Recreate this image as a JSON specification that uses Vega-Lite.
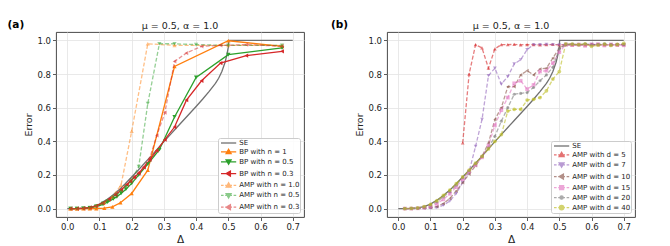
{
"$schema": "https://vega.github.io/schema/vega-lite/v6.json",
"padding": {"left": 7, "top": 19, "right": 0, "bottom": 0},
"config": {
 "font": "DejaVu Sans",
 "view": {"stroke": "#333333", "strokeWidth": 0.9},
 "axis": {"domain": false, "grid": true, "gridColor": "#e3e3e3", "gridWidth": 0.8, "tickColor": "#333333", "tickSize": 3.5, "tickWidth": 0.8, "labelFontSize": 8.5, "labelColor": "#222222", "labelPadding": 2, "titleFontWeight": "normal", "titleColor": "#222222", "titlePadding": 3},
 "title": {"fontSize": 9.5, "fontWeight": "normal", "color": "#222222"}
},
"datasets": {
"a": [
{"s":"SE","x":0,"y":0},{"s":"SE","x":0.02,"y":0},{"s":"SE","x":0.04,"y":0.001},{"s":"SE","x":0.06,"y":0.004},{"s":"SE","x":0.08,"y":0.012},{"s":"SE","x":0.1,"y":0.027},{"s":"SE","x":0.12,"y":0.05},{"s":"SE","x":0.14,"y":0.078},{"s":"SE","x":0.16,"y":0.11},{"s":"SE","x":0.18,"y":0.148},{"s":"SE","x":0.2,"y":0.188},{"s":"SE","x":0.22,"y":0.228},{"s":"SE","x":0.24,"y":0.27},{"s":"SE","x":0.26,"y":0.312},{"s":"SE","x":0.28,"y":0.355},{"s":"SE","x":0.3,"y":0.398},{"s":"SE","x":0.32,"y":0.44},{"s":"SE","x":0.34,"y":0.482},{"s":"SE","x":0.36,"y":0.524},{"s":"SE","x":0.38,"y":0.565},{"s":"SE","x":0.4,"y":0.607},{"s":"SE","x":0.42,"y":0.65},{"s":"SE","x":0.44,"y":0.695},{"s":"SE","x":0.46,"y":0.745},{"s":"SE","x":0.47,"y":0.775},{"s":"SE","x":0.48,"y":0.815},{"s":"SE","x":0.49,"y":0.87},{"s":"SE","x":0.495,"y":0.91},{"s":"SE","x":0.5,"y":0.96},{"s":"SE","x":0.501,"y":1.0},{"s":"SE","x":0.7,"y":1.0},
{"s":"BP with n = 1","x":0.01,"y":0},{"s":"BP with n = 1","x":0.03,"y":0},{"s":"BP with n = 1","x":0.05,"y":0},{"s":"BP with n = 1","x":0.07,"y":0},{"s":"BP with n = 1","x":0.09,"y":0},{"s":"BP with n = 1","x":0.115,"y":0.003},{"s":"BP with n = 1","x":0.14,"y":0.01},{"s":"BP with n = 1","x":0.165,"y":0.035},{"s":"BP with n = 1","x":0.2,"y":0.09},{"s":"BP with n = 1","x":0.25,"y":0.228},{"s":"BP with n = 1","x":0.333,"y":0.845},{"s":"BP with n = 1","x":0.5,"y":0.998},{"s":"BP with n = 1","x":0.667,"y":0.965},
{"s":"BP with n = 0.5","x":0.01,"y":0},{"s":"BP with n = 0.5","x":0.03,"y":0},{"s":"BP with n = 0.5","x":0.05,"y":0.001},{"s":"BP with n = 0.5","x":0.07,"y":0.004},{"s":"BP with n = 0.5","x":0.09,"y":0.012},{"s":"BP with n = 0.5","x":0.111,"y":0.025},{"s":"BP with n = 0.5","x":0.125,"y":0.038},{"s":"BP with n = 0.5","x":0.143,"y":0.058},{"s":"BP with n = 0.5","x":0.154,"y":0.07},{"s":"BP with n = 0.5","x":0.167,"y":0.09},{"s":"BP with n = 0.5","x":0.182,"y":0.115},{"s":"BP with n = 0.5","x":0.2,"y":0.15},{"s":"BP with n = 0.5","x":0.222,"y":0.2},{"s":"BP with n = 0.5","x":0.25,"y":0.265},{"s":"BP with n = 0.5","x":0.286,"y":0.35},{"s":"BP with n = 0.5","x":0.333,"y":0.545},{"s":"BP with n = 0.5","x":0.4,"y":0.78},{"s":"BP with n = 0.5","x":0.5,"y":0.915},{"s":"BP with n = 0.5","x":0.667,"y":0.955},
{"s":"BP with n = 0.3","x":0.01,"y":0},{"s":"BP with n = 0.3","x":0.03,"y":0},{"s":"BP with n = 0.3","x":0.05,"y":0.002},{"s":"BP with n = 0.3","x":0.07,"y":0.006},{"s":"BP with n = 0.3","x":0.09,"y":0.016},{"s":"BP with n = 0.3","x":0.11,"y":0.033},{"s":"BP with n = 0.3","x":0.13,"y":0.055},{"s":"BP with n = 0.3","x":0.15,"y":0.082},{"s":"BP with n = 0.3","x":0.167,"y":0.11},{"s":"BP with n = 0.3","x":0.185,"y":0.142},{"s":"BP with n = 0.3","x":0.196,"y":0.163},{"s":"BP with n = 0.3","x":0.208,"y":0.185},{"s":"BP with n = 0.3","x":0.222,"y":0.21},{"s":"BP with n = 0.3","x":0.238,"y":0.245},{"s":"BP with n = 0.3","x":0.256,"y":0.29},{"s":"BP with n = 0.3","x":0.278,"y":0.345},{"s":"BP with n = 0.3","x":0.303,"y":0.41},{"s":"BP with n = 0.3","x":0.333,"y":0.485},{"s":"BP with n = 0.3","x":0.37,"y":0.645},{"s":"BP with n = 0.3","x":0.417,"y":0.76},{"s":"BP with n = 0.3","x":0.476,"y":0.865},{"s":"BP with n = 0.3","x":0.556,"y":0.91},{"s":"BP with n = 0.3","x":0.667,"y":0.935},
{"s":"AMP with n = 1.0","x":0.01,"y":0},{"s":"AMP with n = 1.0","x":0.03,"y":0},{"s":"AMP with n = 1.0","x":0.05,"y":0.002},{"s":"AMP with n = 1.0","x":0.07,"y":0.006},{"s":"AMP with n = 1.0","x":0.09,"y":0.016},{"s":"AMP with n = 1.0","x":0.115,"y":0.035},{"s":"AMP with n = 1.0","x":0.14,"y":0.07},{"s":"AMP with n = 1.0","x":0.167,"y":0.14},{"s":"AMP with n = 1.0","x":0.2,"y":0.46},{"s":"AMP with n = 1.0","x":0.25,"y":0.98},{"s":"AMP with n = 1.0","x":0.333,"y":0.97},{"s":"AMP with n = 1.0","x":0.5,"y":0.97},{"s":"AMP with n = 1.0","x":0.667,"y":0.97},
{"s":"AMP with n = 0.5","x":0.01,"y":0},{"s":"AMP with n = 0.5","x":0.03,"y":0},{"s":"AMP with n = 0.5","x":0.05,"y":0.002},{"s":"AMP with n = 0.5","x":0.07,"y":0.006},{"s":"AMP with n = 0.5","x":0.09,"y":0.016},{"s":"AMP with n = 0.5","x":0.111,"y":0.032},{"s":"AMP with n = 0.5","x":0.125,"y":0.046},{"s":"AMP with n = 0.5","x":0.143,"y":0.068},{"s":"AMP with n = 0.5","x":0.154,"y":0.082},{"s":"AMP with n = 0.5","x":0.167,"y":0.1},{"s":"AMP with n = 0.5","x":0.182,"y":0.13},{"s":"AMP with n = 0.5","x":0.2,"y":0.17},{"s":"AMP with n = 0.5","x":0.222,"y":0.25},{"s":"AMP with n = 0.5","x":0.25,"y":0.625},{"s":"AMP with n = 0.5","x":0.286,"y":0.98},{"s":"AMP with n = 0.5","x":0.333,"y":0.98},{"s":"AMP with n = 0.5","x":0.4,"y":0.975},{"s":"AMP with n = 0.5","x":0.5,"y":0.97},{"s":"AMP with n = 0.5","x":0.667,"y":0.97},
{"s":"AMP with n = 0.3","x":0.01,"y":0},{"s":"AMP with n = 0.3","x":0.03,"y":0},{"s":"AMP with n = 0.3","x":0.05,"y":0.002},{"s":"AMP with n = 0.3","x":0.07,"y":0.006},{"s":"AMP with n = 0.3","x":0.09,"y":0.016},{"s":"AMP with n = 0.3","x":0.11,"y":0.033},{"s":"AMP with n = 0.3","x":0.13,"y":0.057},{"s":"AMP with n = 0.3","x":0.15,"y":0.085},{"s":"AMP with n = 0.3","x":0.167,"y":0.113},{"s":"AMP with n = 0.3","x":0.185,"y":0.145},{"s":"AMP with n = 0.3","x":0.196,"y":0.166},{"s":"AMP with n = 0.3","x":0.208,"y":0.19},{"s":"AMP with n = 0.3","x":0.222,"y":0.215},{"s":"AMP with n = 0.3","x":0.238,"y":0.25},{"s":"AMP with n = 0.3","x":0.256,"y":0.3},{"s":"AMP with n = 0.3","x":0.278,"y":0.435},{"s":"AMP with n = 0.3","x":0.303,"y":0.57},{"s":"AMP with n = 0.3","x":0.333,"y":0.875},{"s":"AMP with n = 0.3","x":0.37,"y":0.925},{"s":"AMP with n = 0.3","x":0.417,"y":0.965},{"s":"AMP with n = 0.3","x":0.476,"y":0.97},{"s":"AMP with n = 0.3","x":0.556,"y":0.975},{"s":"AMP with n = 0.3","x":0.667,"y":0.965}
],
"b": [
{"s":"SE","x":0,"y":0},{"s":"SE","x":0.02,"y":0},{"s":"SE","x":0.04,"y":0.001},{"s":"SE","x":0.06,"y":0.004},{"s":"SE","x":0.08,"y":0.012},{"s":"SE","x":0.1,"y":0.027},{"s":"SE","x":0.12,"y":0.05},{"s":"SE","x":0.14,"y":0.078},{"s":"SE","x":0.16,"y":0.11},{"s":"SE","x":0.18,"y":0.148},{"s":"SE","x":0.2,"y":0.188},{"s":"SE","x":0.22,"y":0.228},{"s":"SE","x":0.24,"y":0.27},{"s":"SE","x":0.26,"y":0.312},{"s":"SE","x":0.28,"y":0.355},{"s":"SE","x":0.3,"y":0.398},{"s":"SE","x":0.32,"y":0.44},{"s":"SE","x":0.34,"y":0.482},{"s":"SE","x":0.36,"y":0.524},{"s":"SE","x":0.38,"y":0.565},{"s":"SE","x":0.4,"y":0.607},{"s":"SE","x":0.42,"y":0.65},{"s":"SE","x":0.44,"y":0.695},{"s":"SE","x":0.46,"y":0.745},{"s":"SE","x":0.47,"y":0.775},{"s":"SE","x":0.48,"y":0.815},{"s":"SE","x":0.49,"y":0.87},{"s":"SE","x":0.495,"y":0.91},{"s":"SE","x":0.5,"y":0.96},{"s":"SE","x":0.501,"y":1.0},{"s":"SE","x":0.7,"y":1.0},
{"s":"AMP with d = 5","x":0.2,"y":0.39},{"s":"AMP with d = 5","x":0.22,"y":0.8},{"s":"AMP with d = 5","x":0.24,"y":0.975},{"s":"AMP with d = 5","x":0.26,"y":0.955},{"s":"AMP with d = 5","x":0.28,"y":0.835},{"s":"AMP with d = 5","x":0.3,"y":0.95},{"s":"AMP with d = 5","x":0.32,"y":0.975},{"s":"AMP with d = 5","x":0.34,"y":0.975},{"s":"AMP with d = 5","x":0.36,"y":0.976},{"s":"AMP with d = 5","x":0.38,"y":0.974},{"s":"AMP with d = 5","x":0.4,"y":0.975},{"s":"AMP with d = 5","x":0.42,"y":0.975},{"s":"AMP with d = 5","x":0.44,"y":0.973},{"s":"AMP with d = 5","x":0.46,"y":0.975},{"s":"AMP with d = 5","x":0.48,"y":0.976},{"s":"AMP with d = 5","x":0.5,"y":0.974},{"s":"AMP with d = 5","x":0.52,"y":0.975},{"s":"AMP with d = 5","x":0.54,"y":0.973},{"s":"AMP with d = 5","x":0.56,"y":0.975},{"s":"AMP with d = 5","x":0.58,"y":0.974},{"s":"AMP with d = 5","x":0.6,"y":0.976},{"s":"AMP with d = 5","x":0.62,"y":0.975},{"s":"AMP with d = 5","x":0.64,"y":0.973},{"s":"AMP with d = 5","x":0.66,"y":0.975},{"s":"AMP with d = 5","x":0.68,"y":0.974},{"s":"AMP with d = 5","x":0.7,"y":0.975},
{"s":"AMP with d = 7","x":0.02,"y":0},{"s":"AMP with d = 7","x":0.04,"y":0},{"s":"AMP with d = 7","x":0.06,"y":0},{"s":"AMP with d = 7","x":0.08,"y":0.001},{"s":"AMP with d = 7","x":0.1,"y":0.002},{"s":"AMP with d = 7","x":0.12,"y":0.006},{"s":"AMP with d = 7","x":0.14,"y":0.02},{"s":"AMP with d = 7","x":0.16,"y":0.045},{"s":"AMP with d = 7","x":0.18,"y":0.09},{"s":"AMP with d = 7","x":0.2,"y":0.155},{"s":"AMP with d = 7","x":0.22,"y":0.22},{"s":"AMP with d = 7","x":0.24,"y":0.37},{"s":"AMP with d = 7","x":0.26,"y":0.53},{"s":"AMP with d = 7","x":0.28,"y":0.79},{"s":"AMP with d = 7","x":0.3,"y":0.835},{"s":"AMP with d = 7","x":0.32,"y":0.74},{"s":"AMP with d = 7","x":0.34,"y":0.785},{"s":"AMP with d = 7","x":0.36,"y":0.86},{"s":"AMP with d = 7","x":0.38,"y":0.885},{"s":"AMP with d = 7","x":0.4,"y":0.945},{"s":"AMP with d = 7","x":0.42,"y":0.975},{"s":"AMP with d = 7","x":0.44,"y":0.975},{"s":"AMP with d = 7","x":0.46,"y":0.976},{"s":"AMP with d = 7","x":0.48,"y":0.975},{"s":"AMP with d = 7","x":0.5,"y":0.974},{"s":"AMP with d = 7","x":0.52,"y":0.976},{"s":"AMP with d = 7","x":0.54,"y":0.975},{"s":"AMP with d = 7","x":0.56,"y":0.973},{"s":"AMP with d = 7","x":0.58,"y":0.975},{"s":"AMP with d = 7","x":0.6,"y":0.976},{"s":"AMP with d = 7","x":0.62,"y":0.974},{"s":"AMP with d = 7","x":0.64,"y":0.975},{"s":"AMP with d = 7","x":0.66,"y":0.973},{"s":"AMP with d = 7","x":0.68,"y":0.975},{"s":"AMP with d = 7","x":0.7,"y":0.974},
{"s":"AMP with d = 10","x":0.02,"y":0},{"s":"AMP with d = 10","x":0.04,"y":0},{"s":"AMP with d = 10","x":0.06,"y":0.001},{"s":"AMP with d = 10","x":0.08,"y":0.003},{"s":"AMP with d = 10","x":0.1,"y":0.006},{"s":"AMP with d = 10","x":0.12,"y":0.012},{"s":"AMP with d = 10","x":0.14,"y":0.03},{"s":"AMP with d = 10","x":0.16,"y":0.06},{"s":"AMP with d = 10","x":0.18,"y":0.105},{"s":"AMP with d = 10","x":0.2,"y":0.155},{"s":"AMP with d = 10","x":0.22,"y":0.205},{"s":"AMP with d = 10","x":0.24,"y":0.255},{"s":"AMP with d = 10","x":0.26,"y":0.31},{"s":"AMP with d = 10","x":0.28,"y":0.39},{"s":"AMP with d = 10","x":0.3,"y":0.53},{"s":"AMP with d = 10","x":0.32,"y":0.6},{"s":"AMP with d = 10","x":0.34,"y":0.725},{"s":"AMP with d = 10","x":0.36,"y":0.725},{"s":"AMP with d = 10","x":0.38,"y":0.795},{"s":"AMP with d = 10","x":0.4,"y":0.82},{"s":"AMP with d = 10","x":0.42,"y":0.795},{"s":"AMP with d = 10","x":0.44,"y":0.83},{"s":"AMP with d = 10","x":0.46,"y":0.835},{"s":"AMP with d = 10","x":0.48,"y":0.895},{"s":"AMP with d = 10","x":0.5,"y":0.955},{"s":"AMP with d = 10","x":0.52,"y":0.975},{"s":"AMP with d = 10","x":0.54,"y":0.976},{"s":"AMP with d = 10","x":0.56,"y":0.974},{"s":"AMP with d = 10","x":0.58,"y":0.975},{"s":"AMP with d = 10","x":0.6,"y":0.977},{"s":"AMP with d = 10","x":0.62,"y":0.974},{"s":"AMP with d = 10","x":0.64,"y":0.976},{"s":"AMP with d = 10","x":0.66,"y":0.975},{"s":"AMP with d = 10","x":0.68,"y":0.973},{"s":"AMP with d = 10","x":0.7,"y":0.976},
{"s":"AMP with d = 15","x":0.02,"y":0},{"s":"AMP with d = 15","x":0.04,"y":0},{"s":"AMP with d = 15","x":0.06,"y":0.002},{"s":"AMP with d = 15","x":0.08,"y":0.006},{"s":"AMP with d = 15","x":0.1,"y":0.012},{"s":"AMP with d = 15","x":0.12,"y":0.028},{"s":"AMP with d = 15","x":0.14,"y":0.055},{"s":"AMP with d = 15","x":0.16,"y":0.088},{"s":"AMP with d = 15","x":0.18,"y":0.128},{"s":"AMP with d = 15","x":0.2,"y":0.175},{"s":"AMP with d = 15","x":0.22,"y":0.22},{"s":"AMP with d = 15","x":0.24,"y":0.26},{"s":"AMP with d = 15","x":0.26,"y":0.305},{"s":"AMP with d = 15","x":0.28,"y":0.375},{"s":"AMP with d = 15","x":0.3,"y":0.495},{"s":"AMP with d = 15","x":0.32,"y":0.585},{"s":"AMP with d = 15","x":0.34,"y":0.66},{"s":"AMP with d = 15","x":0.36,"y":0.745},{"s":"AMP with d = 15","x":0.38,"y":0.76},{"s":"AMP with d = 15","x":0.4,"y":0.71},{"s":"AMP with d = 15","x":0.42,"y":0.735},{"s":"AMP with d = 15","x":0.44,"y":0.815},{"s":"AMP with d = 15","x":0.46,"y":0.82},{"s":"AMP with d = 15","x":0.48,"y":0.865},{"s":"AMP with d = 15","x":0.5,"y":0.93},{"s":"AMP with d = 15","x":0.52,"y":0.975},{"s":"AMP with d = 15","x":0.54,"y":0.972},{"s":"AMP with d = 15","x":0.56,"y":0.976},{"s":"AMP with d = 15","x":0.58,"y":0.968},{"s":"AMP with d = 15","x":0.6,"y":0.975},{"s":"AMP with d = 15","x":0.62,"y":0.978},{"s":"AMP with d = 15","x":0.64,"y":0.97},{"s":"AMP with d = 15","x":0.66,"y":0.976},{"s":"AMP with d = 15","x":0.68,"y":0.974},{"s":"AMP with d = 15","x":0.7,"y":0.971},
{"s":"AMP with d = 20","x":0.02,"y":0},{"s":"AMP with d = 20","x":0.04,"y":0.001},{"s":"AMP with d = 20","x":0.06,"y":0.003},{"s":"AMP with d = 20","x":0.08,"y":0.01},{"s":"AMP with d = 20","x":0.1,"y":0.02},{"s":"AMP with d = 20","x":0.12,"y":0.04},{"s":"AMP with d = 20","x":0.14,"y":0.07},{"s":"AMP with d = 20","x":0.16,"y":0.1},{"s":"AMP with d = 20","x":0.18,"y":0.14},{"s":"AMP with d = 20","x":0.2,"y":0.185},{"s":"AMP with d = 20","x":0.22,"y":0.225},{"s":"AMP with d = 20","x":0.24,"y":0.268},{"s":"AMP with d = 20","x":0.26,"y":0.31},{"s":"AMP with d = 20","x":0.28,"y":0.36},{"s":"AMP with d = 20","x":0.3,"y":0.43},{"s":"AMP with d = 20","x":0.32,"y":0.52},{"s":"AMP with d = 20","x":0.34,"y":0.6},{"s":"AMP with d = 20","x":0.36,"y":0.68},{"s":"AMP with d = 20","x":0.38,"y":0.685},{"s":"AMP with d = 20","x":0.4,"y":0.69},{"s":"AMP with d = 20","x":0.42,"y":0.72},{"s":"AMP with d = 20","x":0.44,"y":0.76},{"s":"AMP with d = 20","x":0.46,"y":0.795},{"s":"AMP with d = 20","x":0.48,"y":0.84},{"s":"AMP with d = 20","x":0.5,"y":0.95},{"s":"AMP with d = 20","x":0.52,"y":0.975},{"s":"AMP with d = 20","x":0.54,"y":0.978},{"s":"AMP with d = 20","x":0.56,"y":0.974},{"s":"AMP with d = 20","x":0.58,"y":0.98},{"s":"AMP with d = 20","x":0.6,"y":0.972},{"s":"AMP with d = 20","x":0.62,"y":0.976},{"s":"AMP with d = 20","x":0.64,"y":0.979},{"s":"AMP with d = 20","x":0.66,"y":0.973},{"s":"AMP with d = 20","x":0.68,"y":0.977},{"s":"AMP with d = 20","x":0.7,"y":0.975},
{"s":"AMP with d = 40","x":0.02,"y":0},{"s":"AMP with d = 40","x":0.04,"y":0.001},{"s":"AMP with d = 40","x":0.06,"y":0.004},{"s":"AMP with d = 40","x":0.08,"y":0.012},{"s":"AMP with d = 40","x":0.1,"y":0.025},{"s":"AMP with d = 40","x":0.12,"y":0.047},{"s":"AMP with d = 40","x":0.14,"y":0.078},{"s":"AMP with d = 40","x":0.16,"y":0.11},{"s":"AMP with d = 40","x":0.18,"y":0.148},{"s":"AMP with d = 40","x":0.2,"y":0.188},{"s":"AMP with d = 40","x":0.22,"y":0.228},{"s":"AMP with d = 40","x":0.24,"y":0.27},{"s":"AMP with d = 40","x":0.26,"y":0.31},{"s":"AMP with d = 40","x":0.28,"y":0.355},{"s":"AMP with d = 40","x":0.3,"y":0.4},{"s":"AMP with d = 40","x":0.32,"y":0.44},{"s":"AMP with d = 40","x":0.34,"y":0.58},{"s":"AMP with d = 40","x":0.36,"y":0.59},{"s":"AMP with d = 40","x":0.38,"y":0.59},{"s":"AMP with d = 40","x":0.4,"y":0.645},{"s":"AMP with d = 40","x":0.42,"y":0.65},{"s":"AMP with d = 40","x":0.44,"y":0.66},{"s":"AMP with d = 40","x":0.46,"y":0.7},{"s":"AMP with d = 40","x":0.48,"y":0.77},{"s":"AMP with d = 40","x":0.5,"y":0.815},{"s":"AMP with d = 40","x":0.52,"y":0.98},{"s":"AMP with d = 40","x":0.54,"y":0.978},{"s":"AMP with d = 40","x":0.56,"y":0.975},{"s":"AMP with d = 40","x":0.58,"y":0.98},{"s":"AMP with d = 40","x":0.6,"y":0.965},{"s":"AMP with d = 40","x":0.62,"y":0.972},{"s":"AMP with d = 40","x":0.64,"y":0.978},{"s":"AMP with d = 40","x":0.66,"y":0.97},{"s":"AMP with d = 40","x":0.68,"y":0.976},{"s":"AMP with d = 40","x":0.7,"y":0.982}
]
},
"spacing": 26,
"resolve": {"scale": {"color": "independent"}, "legend": {"color": "independent"}},
"hconcat": [
{
 "title": {"text": "(a)", "anchor": "start", "frame": "bounds", "fontSize": 10.5, "fontWeight": "bold", "color": "#000000", "dx": -16, "dy": 10, "offset": 0},
 "resolve": {"scale": {"color": "independent"}, "legend": {"color": "independent"}},
 "vconcat": [{
  "width": 248, "height": 185,
  "title": {"text": "μ = 0.5, α = 1.0", "offset": 2},
  "data": {"name": "a"},
  "encoding": {
   "x": {"field": "x", "type": "quantitative", "scale": {"domain": [-0.035, 0.735], "nice": false, "zero": false}, "axis": {"values": [0, 0.1, 0.2, 0.3, 0.4, 0.5, 0.6, 0.7], "format": ".1f", "title": "Δ", "titleFontSize": 10.5}},
   "y": {"field": "y", "type": "quantitative", "scale": {"domain": [-0.05, 1.05], "nice": false, "zero": false}, "axis": {"values": [0, 0.2, 0.4, 0.6, 0.8, 1.0], "format": ".1f", "title": "Error", "titleFontSize": 9.5}},
   "color": {"field": "s", "type": "nominal",
    "scale": {"domain": ["SE", "BP with n = 1", "BP with n = 0.5", "BP with n = 0.3", "AMP with n = 1.0", "AMP with n = 0.5", "AMP with n = 0.3"], "range": ["#707070", "#ff7f0e", "#2ca02c", "#d62728", "#ff7f0e", "#2ca02c", "#d62728"]},
    "legend": {"title": null, "orient": "bottom-right", "offset": 4, "padding": 0, "rowPadding": -0.2, "symbolSize": 64, "symbolOffset": 5.6, "labelOffset": 5.6, "labelFontSize": 7, "labelColor": "#222222", "fillColor": "rgba(255,255,255,0.85)", "strokeColor": "#cccccc", "cornerRadius": 2, "symbolStrokeWidth": 1.3,
     "encode": {"symbols": {"update": {
      "shape": {"signal": "(indexof(datum.value,'AMP')===0 ? 'M-1.9,0H-1.25M-0.85,0H-0.2M0.2,0H0.85M1.25,0H1.9' : 'M-1.9,0H1.9') + (datum.value==='SE' ? '' : indexof(datum.value,'n = 1')>0 ? 'M0,-0.62L0.62,0.45L-0.62,0.45Z' : indexof(datum.value,'n = 0.5')>0 ? 'M0,0.62L0.62,-0.45L-0.62,-0.45Z' : 'M-0.62,0L0.45,-0.62L0.45,0.62Z')"},
      "fill": {"signal": "['#707070','#ff7f0e','#2ca02c','#d62728','#ff7f0e','#2ca02c','#d62728'][indexof(['SE','BP with n = 1','BP with n = 0.5','BP with n = 0.3','AMP with n = 1.0','AMP with n = 0.5','AMP with n = 0.3'],datum.value)]"},
      "stroke": {"signal": "['#707070','#ff7f0e','#2ca02c','#d62728','#ff7f0e','#2ca02c','#d62728'][indexof(['SE','BP with n = 1','BP with n = 0.5','BP with n = 0.3','AMP with n = 1.0','AMP with n = 0.5','AMP with n = 0.3'],datum.value)]"},
      "opacity": {"signal": "indexof(datum.value,'AMP')===0 ? 0.55 : 1"},
      "strokeWidth": {"value": 1.3},
      "strokeDash": {"value": []}
     }}}
    }
   }
  },
  "layer": [
   {"transform": [{"filter": "datum.s==='SE' || indexof(datum.s,'BP')===0"}], "mark": {"type": "line", "strokeWidth": 1.3}},
   {"transform": [{"filter": "datum.s==='BP with n = 1'"}], "mark": {"type": "point", "shape": "triangle-up", "filled": true, "size": 18, "opacity": 1}},
   {"transform": [{"filter": "datum.s==='BP with n = 0.5'"}], "mark": {"type": "point", "shape": "triangle-down", "filled": true, "size": 18, "opacity": 1}},
   {"transform": [{"filter": "datum.s==='BP with n = 0.3'"}], "mark": {"type": "point", "shape": "triangle-left", "filled": true, "size": 18, "opacity": 1}},
   {"transform": [{"filter": "indexof(datum.s,'AMP')===0"}], "mark": {"type": "line", "strokeWidth": 1.3, "strokeDash": [4, 2], "opacity": 0.5}},
   {"transform": [{"filter": "datum.s==='AMP with n = 1.0'"}], "mark": {"type": "point", "shape": "triangle-up", "filled": true, "size": 18, "opacity": 0.5}},
   {"transform": [{"filter": "datum.s==='AMP with n = 0.5'"}], "mark": {"type": "point", "shape": "triangle-down", "filled": true, "size": 18, "opacity": 0.5}},
   {"transform": [{"filter": "datum.s==='AMP with n = 0.3'"}], "mark": {"type": "point", "shape": "triangle-left", "filled": true, "size": 18, "opacity": 0.5}}
  ]
 }]
},
{
 "title": {"text": "(b)", "anchor": "start", "frame": "bounds", "fontSize": 10.5, "fontWeight": "bold", "color": "#000000", "dx": -23.5, "dy": 10, "offset": 0},
 "resolve": {"scale": {"color": "independent"}, "legend": {"color": "independent"}},
 "vconcat": [{
  "width": 248, "height": 185,
  "title": {"text": "μ = 0.5, α = 1.0", "offset": 2},
  "data": {"name": "b"},
  "encoding": {
   "x": {"field": "x", "type": "quantitative", "scale": {"domain": [-0.035, 0.735], "nice": false, "zero": false}, "axis": {"values": [0, 0.1, 0.2, 0.3, 0.4, 0.5, 0.6, 0.7], "format": ".1f", "title": "Δ", "titleFontSize": 10.5}},
   "y": {"field": "y", "type": "quantitative", "scale": {"domain": [-0.05, 1.05], "nice": false, "zero": false}, "axis": {"values": [0, 0.2, 0.4, 0.6, 0.8, 1.0], "format": ".1f", "title": "Error", "titleFontSize": 9.5}},
   "color": {"field": "s", "type": "nominal",
    "scale": {"domain": ["SE", "AMP with d = 5", "AMP with d = 7", "AMP with d = 10", "AMP with d = 15", "AMP with d = 20", "AMP with d = 40"], "range": ["#707070", "#d62728", "#9467bd", "#8c564b", "#e377c2", "#7f7f7f", "#bcbd22"]},
    "legend": {"title": null, "orient": "bottom-right", "offset": 4, "padding": 0, "rowPadding": -0.2, "symbolSize": 64, "symbolOffset": 5.6, "labelOffset": 5.6, "labelFontSize": 7, "labelColor": "#222222", "fillColor": "rgba(255,255,255,0.85)", "strokeColor": "#cccccc", "cornerRadius": 2, "symbolStrokeWidth": 1.3,
     "encode": {"symbols": {"update": {
      "shape": {"signal": "(datum.value==='SE' ? 'M-1.9,0H1.9' : 'M-1.9,0H-1.25M-0.85,0H-0.2M0.2,0H0.85M1.25,0H1.9') + ['', 'M0,-0.62L0.62,0.45L-0.62,0.45Z', 'M0,0.62L0.62,-0.45L-0.62,-0.45Z', 'M-0.62,0L0.45,-0.62L0.45,0.62Z', 'M-0.5,-0.5H0.5V0.5H-0.5Z', 'M-0.4,0A0.4,0.4 0 1 0 0.4,0A0.4,0.4 0 1 0 -0.4,0Z', 'M-0.55,0A0.55,0.55 0 1 0 0.55,0A0.55,0.55 0 1 0 -0.55,0Z'][indexof(['SE','AMP with d = 5','AMP with d = 7','AMP with d = 10','AMP with d = 15','AMP with d = 20','AMP with d = 40'],datum.value)]"},
      "fill": {"signal": "['#707070','#d62728','#9467bd','#8c564b','#e377c2','#7f7f7f','#bcbd22'][indexof(['SE','AMP with d = 5','AMP with d = 7','AMP with d = 10','AMP with d = 15','AMP with d = 20','AMP with d = 40'],datum.value)]"},
      "stroke": {"signal": "['#707070','#d62728','#9467bd','#8c564b','#e377c2','#7f7f7f','#bcbd22'][indexof(['SE','AMP with d = 5','AMP with d = 7','AMP with d = 10','AMP with d = 15','AMP with d = 20','AMP with d = 40'],datum.value)]"},
      "opacity": {"signal": "datum.value==='SE' ? 1 : 0.65"},
      "strokeWidth": {"value": 1.3},
      "strokeDash": {"value": []}
     }}}
    }
   }
  },
  "layer": [
   {"transform": [{"filter": "datum.s==='SE'"}], "mark": {"type": "line", "strokeWidth": 1.3}},
   {"transform": [{"filter": "datum.s!=='SE'"}], "mark": {"type": "line", "strokeWidth": 1.3, "strokeDash": [4, 2], "opacity": 0.6}},
   {"transform": [{"filter": "datum.s==='AMP with d = 5'"}], "mark": {"type": "point", "shape": "triangle-up", "filled": true, "size": 14, "opacity": 0.6}},
   {"transform": [{"filter": "datum.s==='AMP with d = 7'"}], "mark": {"type": "point", "shape": "triangle-down", "filled": true, "size": 14, "opacity": 0.6}},
   {"transform": [{"filter": "datum.s==='AMP with d = 10'"}], "mark": {"type": "point", "shape": "triangle-left", "filled": true, "size": 14, "opacity": 0.6}},
   {"transform": [{"filter": "datum.s==='AMP with d = 15'"}], "mark": {"type": "point", "shape": "square", "filled": true, "size": 14, "opacity": 0.6}},
   {"transform": [{"filter": "datum.s==='AMP with d = 20'"}], "mark": {"type": "point", "shape": "circle", "filled": true, "size": 10, "opacity": 0.6}},
   {"transform": [{"filter": "datum.s==='AMP with d = 40'"}], "mark": {"type": "point", "shape": "circle", "filled": true, "size": 14, "opacity": 0.6}}
  ]
 }]
}
]
}
